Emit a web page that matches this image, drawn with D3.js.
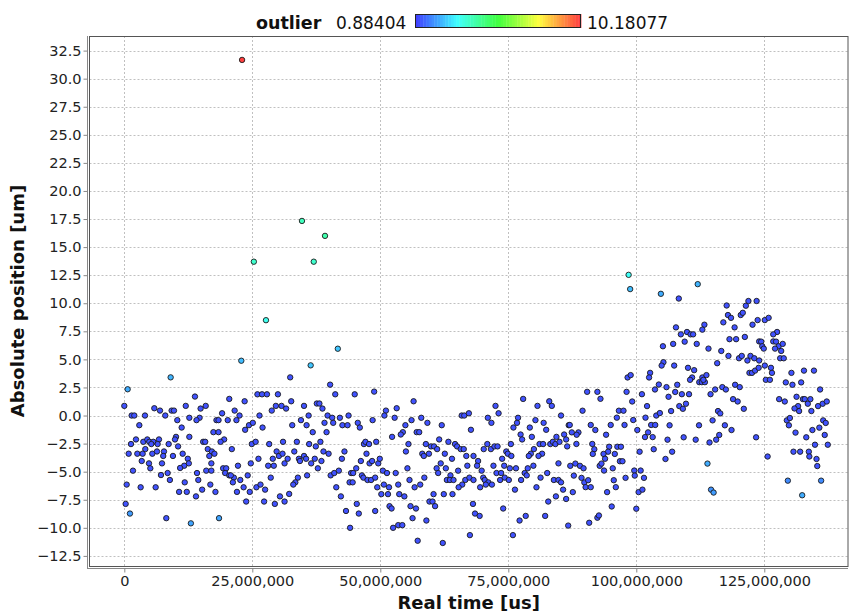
<!DOCTYPE html>
<html><head><meta charset="utf-8">
<script src="https://cdn.jsdelivr.net/npm/d3@7"></script>
<style>
html,body{margin:0;padding:0;background:#fff;}
svg{display:block;font-family:"DejaVu Sans",sans-serif;}
</style></head>
<body>
<svg id="chart" width="849" height="614"></svg>
<script>
// ---- data (time in millions of microseconds, position in um) ----
const xTickValues = [0, 25e6, 50e6, 75e6, 100e6, 125e6];
const yTickValues = [-12.5,-10,-7.5,-5,-2.5,0,2.5,5,7.5,10,12.5,15,17.5,20,22.5,25,27.5,30,32.5];
const outlierMin = 0.88404, outlierMax = 10.18077;
const baseScore = 1.1;

const pointsA = [[0.0,0.86],[5.86,0.65],[6.97,0.44],[9.24,0.44],[9.7,0.44],[12.0,0.86],[1.43,0],[1.95,0],[4.04,0],[8.0,0],[10.35,-0.41],[2.93,-0.86],[11.2,-1.07],[12.7,-0.2],[10.1,-1.9],[2.28,-2.13],[1.3,-2.54],[3.71,-2.34],[4.49,-2.13],[4.88,-2.34],[5.66,-2.34],[5.27,-2.54],[6.77,-2.13],[6.51,-2.54],[8.66,-2.54],[9.9,-2.13],[12.7,-1.9],[10.5,-2.75],[4.1,-2.99],[0.85,-3.4],[2.54,-3.4],[3.58,-3.4],[5.47,-3.4],[6.38,-3.2],[7.75,-3.2],[7.6,-3.6],[9.5,-3.6],[11.4,-3.4],[3.4,-4.05],[4.82,-4.26],[7.36,-4.26],[5.08,-4.7],[12.4,-3.85],[12.6,-4.26],[11.7,-4.47],[10.9,-4.67],[1.69,-4.91],[7.16,-5.3],[8.46,-5.12],[8.9,-5.74],[0.46,-6.15],[3.19,-6.39],[6.12,-6.39],[11.8,-5.95],[10.7,-6.8],[12.2,-6.8],[0.26,-7.87],[8.2,-9.14]];
const pointsB = [[26.0,1.89],[26.9,1.89],[27.86,1.89],[30.0,1.89],[13.8,1.69],[20.5,1.48],[23.5,1.27],[14.9,0.62],[15.9,0.86],[21.55,0.44],[22.5,0],[19.1,0.2],[28.8,0.44],[29.6,0.86],[30.7,0.86],[26.4,0],[14.7,-0.2],[14.1,-0.41],[18.0,-0.41],[18.4,-0.41],[20.2,-0.41],[21.9,-0.41],[24.35,-0.86],[23.6,-1.27],[25.1,-0.65],[27.0,-1.07],[17.4,-1.48],[18.4,-1.48],[19.5,-2.13],[18.8,-2.34],[15.4,-2.34],[15.8,-2.34],[24.9,-2.54],[25.65,-2.34],[28.3,-2.54],[31.0,-2.34],[16.3,-2.99],[17.1,-3.2],[17.6,-3.4],[16.6,-3.6],[21.0,-2.99],[29.75,-3.2],[30.2,-3.6],[30.9,-3.4],[26.2,-3.85],[29.0,-3.85],[17.0,-4.26],[22.2,-4.47],[24.7,-4.26],[28.1,-4.47],[29.2,-4.47],[31.3,-4.26],[19.3,-4.7],[19.9,-4.7],[19.7,-5.12],[20.5,-5.33],[21.4,-5.53],[20.8,-5.33],[14.2,-5.12],[16.0,-4.91],[17.0,-4.91],[24.1,-5.33],[28.6,-5.53],[14.45,-5.74],[22.65,-5.74],[21.2,-5.95],[16.8,-6.15],[25.8,-6.39],[26.6,-6.15],[27.5,-6.6],[23.3,-6.39],[15.2,-6.6],[17.8,-6.8],[22.0,-6.8],[24.5,-6.8],[30.4,-7.2],[31.3,-7.66],[14.0,-7.2],[23.8,-7.66],[27.3,-7.66],[29.4,-7.87]];
const pointsC = [[32.4,3.4],[40.2,2.75],[41.2,1.89],[45.0,1.89],[48.8,2.13],[32.6,1.27],[31.6,0.62],[35.1,0.86],[37.6,1.07],[38.1,1.07],[38.7,0.62],[36.0,0],[39.7,0],[40.6,-0.2],[42.1,-0.2],[43.8,0],[32.8,-0.86],[34.5,-0.41],[35.6,-0.86],[39.1,-0.65],[40.8,-0.65],[42.6,-0.86],[43.6,-0.86],[45.6,-0.65],[46.0,-1.07],[48.5,-0.41],[36.8,-1.48],[39.5,-1.48],[33.7,-2.34],[36.1,-2.54],[37.4,-2.75],[38.3,-2.34],[46.8,-2.54],[47.1,-2.34],[47.8,-2.54],[49.2,-2.34],[33.2,-3.2],[38.9,-3.2],[39.9,-3.4],[43.0,-3.2],[47.3,-3.4],[35.1,-3.6],[34.1,-3.85],[34.3,-4.05],[35.5,-3.85],[31.9,-3.85],[37.2,-3.85],[36.5,-4.26],[38.5,-4.05],[37.8,-4.7],[42.5,-3.85],[46.2,-4.05],[47.9,-4.26],[48.4,-4.05],[49.6,-4.26],[35.7,-5.33],[40.3,-5.33],[41.0,-5.12],[41.9,-4.91],[44.3,-5.12],[44.7,-5.12],[45.3,-4.7],[46.4,-5.33],[46.7,-5.53],[47.5,-5.74],[48.2,-5.74],[33.9,-5.53],[33.4,-5.95],[33.0,-6.15],[41.4,-6.39],[44.0,-5.95],[44.6,-5.95],[49.4,-6.39],[32.2,-6.98],[42.3,-7.2],[45.4,-7.87],[43.3,-8.5],[45.8,-8.73],[49.0,-8.5],[44.1,-10.0]];
const pointsD = [[56.5,1.27],[51.1,0.44],[50.8,0],[53.2,0.65],[52.8,-0.2],[56.1,-0.41],[58.0,-0.2],[59.2,-0.65],[62.0,-0.86],[54.9,-0.86],[54.4,-1.48],[54.0,-1.69],[57.1,-1.48],[57.6,-1.48],[52.3,-1.9],[65.9,0],[66.4,0],[67.3,0.2],[67.7,-1.27],[55.5,-2.54],[55.0,-3.2],[58.9,-2.54],[59.9,-2.75],[60.5,-2.75],[61.1,-2.99],[61.5,-2.13],[63.3,-2.34],[64.6,-2.54],[65.0,-2.75],[65.7,-2.99],[66.3,-2.99],[58.2,-3.4],[58.5,-3.6],[59.5,-3.4],[62.6,-3.4],[64.0,-3.85],[66.8,-3.6],[68.2,-3.6],[49.9,-3.85],[55.3,-4.7],[50.5,-4.91],[51.3,-5.12],[53.0,-5.12],[61.8,-4.26],[61.0,-4.7],[61.3,-5.12],[62.8,-4.7],[63.7,-5.33],[63.0,-5.74],[63.6,-5.74],[64.3,-5.74],[65.2,-4.91],[67.0,-4.47],[49.0,-5.53],[55.7,-5.74],[58.6,-5.53],[57.8,-6.15],[56.7,-6.39],[66.6,-5.74],[66.0,-6.15],[65.3,-6.39],[67.4,-5.53],[68.2,-5.74],[50.7,-6.15],[51.7,-6.39],[53.5,-6.15],[50.2,-7.0],[51.5,-7.0],[53.7,-7.0],[54.7,-7.2],[60.4,-7.0],[62.4,-7.0],[64.1,-7.0],[59.6,-7.66],[60.2,-7.66],[60.7,-8.07],[51.8,-8.07],[52.2,-8.28],[55.9,-8.07],[56.97,-8.28],[56.3,-9.14],[59.0,-9.35],[68.1,-7.87],[68.5,-8.73],[52.5,-10.0],[53.5,-9.76],[54.3,-9.76],[57.3,-11.15],[62.2,-11.35],[67.5,-10.65]];
const pointsE = [[77.9,1.48],[72.5,0.86],[73.1,0.2],[71.0,-0.2],[71.7,-0.65],[80.7,0.86],[83.0,1.27],[83.5,0.86],[85.3,0],[76.9,-0.2],[76.7,-0.65],[76.0,-1.07],[77.4,-1.69],[77.7,-2.13],[79.2,-1.07],[80.3,-0.41],[81.9,-0.65],[82.4,-1.27],[79.6,-1.9],[86.8,-0.86],[70.9,-2.54],[70.2,-2.99],[71.6,-2.99],[72.3,-2.75],[72.9,-2.75],[75.5,-2.54],[81.1,-2.54],[81.8,-2.54],[83.2,-2.54],[83.7,-2.34],[84.2,-2.54],[85.0,-2.34],[84.4,-1.9],[85.9,-1.69],[86.3,-2.13],[86.5,-2.75],[74.6,-3.2],[74.9,-3.4],[75.6,-3.6],[73.8,-3.85],[80.0,-2.99],[79.4,-3.4],[79.0,-3.6],[81.6,-3.4],[80.9,-3.6],[69.1,-4.05],[68.9,-4.47],[69.8,-4.91],[72.1,-4.47],[74.2,-4.47],[75.3,-4.7],[76.5,-4.7],[79.9,-4.47],[78.8,-4.7],[84.8,-4.26],[72.7,-5.12],[73.6,-5.12],[78.2,-5.12],[78.6,-5.33],[82.6,-5.12],[70.1,-5.53],[70.4,-5.74],[71.1,-5.95],[70.6,-6.15],[71.8,-6.15],[69.5,-6.39],[73.4,-5.74],[74.3,-5.53],[75.1,-5.74],[77.5,-5.74],[81.3,-5.53],[83.9,-5.74],[84.8,-5.74],[85.3,-5.95],[76.3,-6.6],[80.5,-6.39],[85.7,-6.6],[69.4,-8.94],[74.0,-8.28],[82.8,-7.66],[84.3,-7.2],[86.3,-7.43],[77.2,-9.35],[78.4,-8.94],[82.2,-8.94],[86.7,-9.8],[75.9,-10.65]];
const pointsF = [[105.2,6.17],[105.3,4.75],[104.95,4.45],[98.3,3.39],[98.9,3.6],[102.7,3.8],[102.5,3.39],[104.4,2.76],[103.65,2.32],[90.4,2.11],[92.4,2.11],[93.0,1.49],[98.1,2.11],[101.1,1.9],[99.2,1.25],[102.1,0.84],[89.5,0.43],[96.6,0.43],[97.5,0.43],[96.2,-0.19],[99.4,-0.4],[101.8,-0.19],[103.9,0],[104.6,0.22],[87.0,-0.84],[91.1,-0.84],[92.0,-1.29],[95.0,-0.84],[97.7,-0.84],[102.9,-0.84],[103.7,-0.84],[100.2,-1.29],[87.4,-1.5],[88.7,-1.5],[88.35,-1.71],[94.1,-1.71],[102.3,-1.5],[101.7,-1.92],[103.2,-1.92],[88.3,-2.53],[91.4,-2.53],[91.8,-3.0],[91.5,-3.42],[94.7,-2.78],[94.5,-3.22],[93.6,-3.42],[93.9,-3.85],[96.3,-2.78],[97.0,-2.78],[95.8,-3.42],[103.4,-3.0],[100.65,-3.22],[96.8,-4.07],[97.3,-4.07],[87.1,-4.48],[88.1,-4.28],[89.0,-4.48],[89.7,-4.7],[92.85,-4.48],[93.2,-4.28],[95.4,-4.7],[93.7,-4.9],[99.6,-4.9],[100.85,-4.9],[99.7,-5.35],[101.5,-5.55],[97.9,-5.55],[87.8,-5.35],[89.3,-5.55],[89.85,-5.96],[90.6,-5.76],[90.1,-6.38],[91.1,-6.38],[87.6,-6.82],[95.6,-5.76],[96.0,-6.38],[94.3,-6.82],[100.45,-6.82],[101.2,-6.6],[95.2,-8.1],[100.0,-8.3],[92.4,-9.1],[92.7,-8.9],[90.8,-9.55]];
const pointsG = [[108.3,10.42],[117.65,9.8],[117.0,8.3],[117.9,8.95],[118.5,8.7],[119.2,7.85],[120.4,8.95],[120.8,9.15],[121.4,9.78],[121.9,10.2],[123.5,10.2],[123.7,8.5],[122.7,8.09],[107.75,7.85],[108.7,7.23],[109.9,7.44],[110.6,7.23],[111.1,7.23],[113.3,8.09],[112.9,7.65],[109.45,6.58],[111.8,6.38],[107.2,6.38],[114.1,5.96],[116.6,5.75],[118.2,6.8],[119.5,6.8],[121.2,7.0],[118.0,5.31],[120.06,5.1],[120.6,5.31],[121.7,4.9],[122.3,5.31],[123.05,5.1],[124.0,4.9],[124.0,6.6],[107.4,4.45],[115.8,4.66],[110.1,4.25],[111.3,4.04],[122.1,3.8],[122.6,3.8],[123.2,4.0],[123.9,4.25],[110.9,3.39],[110.5,3.18],[112.9,3.39],[113.7,3.6],[112.3,2.97],[112.8,2.97],[113.4,2.97],[113.1,3.18],[105.9,2.53],[108.0,2.74],[106.3,1.67],[107.6,2.1],[108.9,1.9],[110.3,1.9],[114.5,1.9],[115.4,2.32],[116.8,2.53],[117.5,2.32],[119.3,2.74],[120.2,2.53],[118.9,1.46],[119.8,1.25],[121.0,0.6],[106.8,0.4],[108.4,0.84],[109.1,0.6],[109.7,1.05],[115.96,0.4],[116.4,0.19],[114.9,-0.43],[106.5,-0.87],[112.25,-0.87],[117.3,-0.87],[118.6,-1.29],[106.1,-2.15],[109.25,-1.94],[111.6,-2.15],[114.3,-2.4],[115.6,-2.15],[116.2,-1.73],[123.4,-1.94],[107.0,-3.22],[105.7,-3.87]];
const pointsH = [[125.1,8.5],[125.85,8.7],[127.5,7.44],[126.75,7.23],[124.4,6.58],[126.75,6.6],[127.3,6.58],[124.6,6.17],[124.9,5.96],[127.8,6.17],[128.6,6.38],[127.1,5.96],[128.3,5.75],[128.1,5.1],[128.8,5.1],[125.1,4.45],[126.3,4.25],[126.5,3.8],[125.3,3.18],[126.1,3.18],[130.3,3.8],[132.75,4.0],[134.7,4.0],[129.2,2.95],[130.5,2.74],[132.2,2.95],[135.9,2.32],[127.9,1.46],[129.0,1.25],[131.3,1.67],[132.55,1.46],[132.9,1.46],[134.0,1.46],[133.5,1.05],[131.6,0.84],[131.8,0.4],[130.9,0.63],[134.2,0.4],[135.5,0.84],[136.4,1.05],[137.2,1.25],[129.4,-0.43],[130.0,-0.22],[129.8,-0.87],[136.5,-0.43],[137.0,-0.66],[131.1,-1.52],[134.4,-1.29],[135.75,-1.08],[136.8,-1.73],[133.2,-1.94],[130.7,-3.22],[132.0,-3.22],[133.7,-3.22],[133.8,-3.65],[135.2,-3.87],[135.35,-4.5],[134.9,-2.6],[137.4,-2.6],[125.65,-3.65]];

// points with elevated outlier scores: [time (M us), position, score]
const highlightTime  = [9.05, 0.65, 1.1, 27.67, 22.85, 13.0, 18.5, 41.7, 36.4, 98.5, 98.8, 104.8, 112.0, 113.9, 114.6, 115.1, 132.4, 129.6, 136.1, 34.7, 39.2, 37.0, 25.3, 23.0];
const highlightPos   = [3.4, 2.34, -8.73, 8.49, 4.88, -9.6, -9.14, 5.95, 4.47, 12.53, 11.26, 10.84, 11.7, -4.28, -6.6, -6.86, -7.1, -5.8, -5.8, 17.33, 16.0, 13.7, 13.7, 31.67];
const highlightScore = [2.3, 2.2, 2.0, 3.4, 2.4, 2.1, 2.1, 2.5, 2.5, 3.3, 2.4, 2.2, 2.3, 2.2, 1.9, 2.0, 2.2, 1.8, 1.8, 4.0, 4.2, 3.8, 3.8, 10.18077];

// ---- layout ----
const svg = d3.select("#chart");
const L = 89.5, R = 848, T = 36, B = 566;
const x = d3.scaleLinear().domain([-6.8e6, 141.35e6]).range([L, R]);
const y = d3.scaleLinear().domain([-13.4, 33.8]).range([B, T]);

// colormap: HSV rainbow blue -> red
function cmap(f) {
  f = Math.max(0, Math.min(1, f));
  const h = 240 * (1 - f), s = 0.75, v = 1;
  const c = v * s, hp = h / 60, xx = c * (1 - Math.abs(hp % 2 - 1)), m = v - c;
  let r=0,g=0,b=0;
  if (hp < 1) {r=c;g=xx;} else if (hp < 2) {r=xx;g=c;} else if (hp < 3) {g=c;b=xx;}
  else if (hp < 4) {g=xx;b=c;} else if (hp < 5) {r=xx;b=c;} else {r=c;b=xx;}
  return d3.rgb((r+m)*255, (g+m)*255, (b+m)*255).formatHex();
}
const color = d3.scaleLinear().domain([outlierMin, outlierMax]).range([0, 1]).clamp(true);

// plot background
svg.append("rect").attr("x", L).attr("y", T).attr("width", R - L).attr("height", B - T).attr("fill", "#fff");

// gridlines
const grid = svg.append("g").attr("stroke", "#c0c0c0").attr("stroke-width", 1).attr("stroke-dasharray", "2,2");
grid.selectAll(".gx").data(xTickValues).join("line")
  .attr("x1", d => Math.round(x(d)) + 0.5).attr("x2", d => Math.round(x(d)) + 0.5)
  .attr("y1", T).attr("y2", B);
grid.selectAll(".gy").data(yTickValues).join("line")
  .attr("y1", d => Math.round(y(d)) + 0.5).attr("y2", d => Math.round(y(d)) + 0.5)
  .attr("x1", L).attr("x2", R);

// points
const allBase = [].concat(pointsA, pointsB, pointsC, pointsD, pointsE, pointsF, pointsG, pointsH)
  .map(p => ({t: p[0] * 1e6, v: p[1], s: baseScore}));
const highlights = highlightTime.map((t, i) => ({t: t * 1e6, v: highlightPos[i], s: highlightScore[i]}))
  .sort((a, b) => a.s - b.s);
const pts = svg.append("g");
pts.selectAll("circle").data(allBase.concat(highlights)).join("circle")
  .attr("cx", d => x(d.t)).attr("cy", d => y(d.v)).attr("r", 2.7)
  .attr("fill", d => cmap(color(d.s))).attr("stroke", "#1a1a1a").attr("stroke-width", 0.9);

// plot outline
svg.append("rect").attr("x", L).attr("y", T + 0.5).attr("width", R - L).attr("height", B - T)
  .attr("fill", "none").attr("stroke", "#555").attr("stroke-width", 1);

// axes
const yAxis = d3.axisLeft(y).tickValues(yTickValues).tickFormat(d3.format(".1f")).tickSize(4).tickPadding(2);
const gy = svg.append("g").attr("transform", "translate(87.5,0)").call(yAxis);
gy.select(".domain").attr("stroke", "#888").attr("d", `M0,${T}V${B + 3}`);
gy.selectAll(".tick line").attr("stroke", "#888");
gy.selectAll(".tick text").attr("font-size", 14.5).attr("font-family", "DejaVu Sans").attr("fill", "#222");

const xAxis = d3.axisBottom(x).tickValues(xTickValues).tickFormat(d3.format(",")).tickSize(4).tickPadding(3);
const gx = svg.append("g").attr("transform", "translate(0,568.5)").call(xAxis);
gx.select(".domain").attr("stroke", "#888").attr("d", `M${L - 2},0H${R}`);
gx.selectAll(".tick line").attr("stroke", "#888");
gx.selectAll(".tick text").attr("font-size", 14.5).attr("font-family", "DejaVu Sans").attr("fill", "#222");

// axis titles
svg.append("text").attr("x", (L + R) / 2).attr("y", 609).attr("text-anchor", "middle")
  .attr("font-size", 18).attr("font-weight", "bold").attr("fill", "#111").text("Real time [us]");
svg.append("text").attr("transform", `translate(24,${(T + B) / 2}) rotate(-90)`).attr("text-anchor", "middle")
  .attr("font-size", 18).attr("font-weight", "bold").attr("fill", "#111").text("Absolute position [um]");

// legend
svg.append("text").attr("x", 256).attr("y", 29).attr("font-size", 17.5).attr("font-weight", "bold").attr("fill", "#111").text("outlier");
svg.append("text").attr("x", 336).attr("y", 29).attr("font-size", 17).attr("fill", "#111").text("0.88404");
const barX = 415, barW = 166, barY = 14, barH = 14;
const nSteps = 60;
const bar = svg.append("g");
bar.selectAll("rect").data(d3.range(nSteps)).join("rect")
  .attr("x", i => barX + i * barW / nSteps).attr("y", barY).attr("width", barW / nSteps + 0.4).attr("height", barH)
  .attr("fill", i => cmap(i / (nSteps - 1)));
svg.append("rect").attr("x", barX + 0.5).attr("y", barY + 0.5).attr("width", barW - 1).attr("height", barH - 1)
  .attr("fill", "none").attr("stroke", "#222").attr("stroke-width", 1);
svg.append("text").attr("x", 587).attr("y", 29).attr("font-size", 17).attr("fill", "#111").text("10.18077");
</script>
</body></html>
